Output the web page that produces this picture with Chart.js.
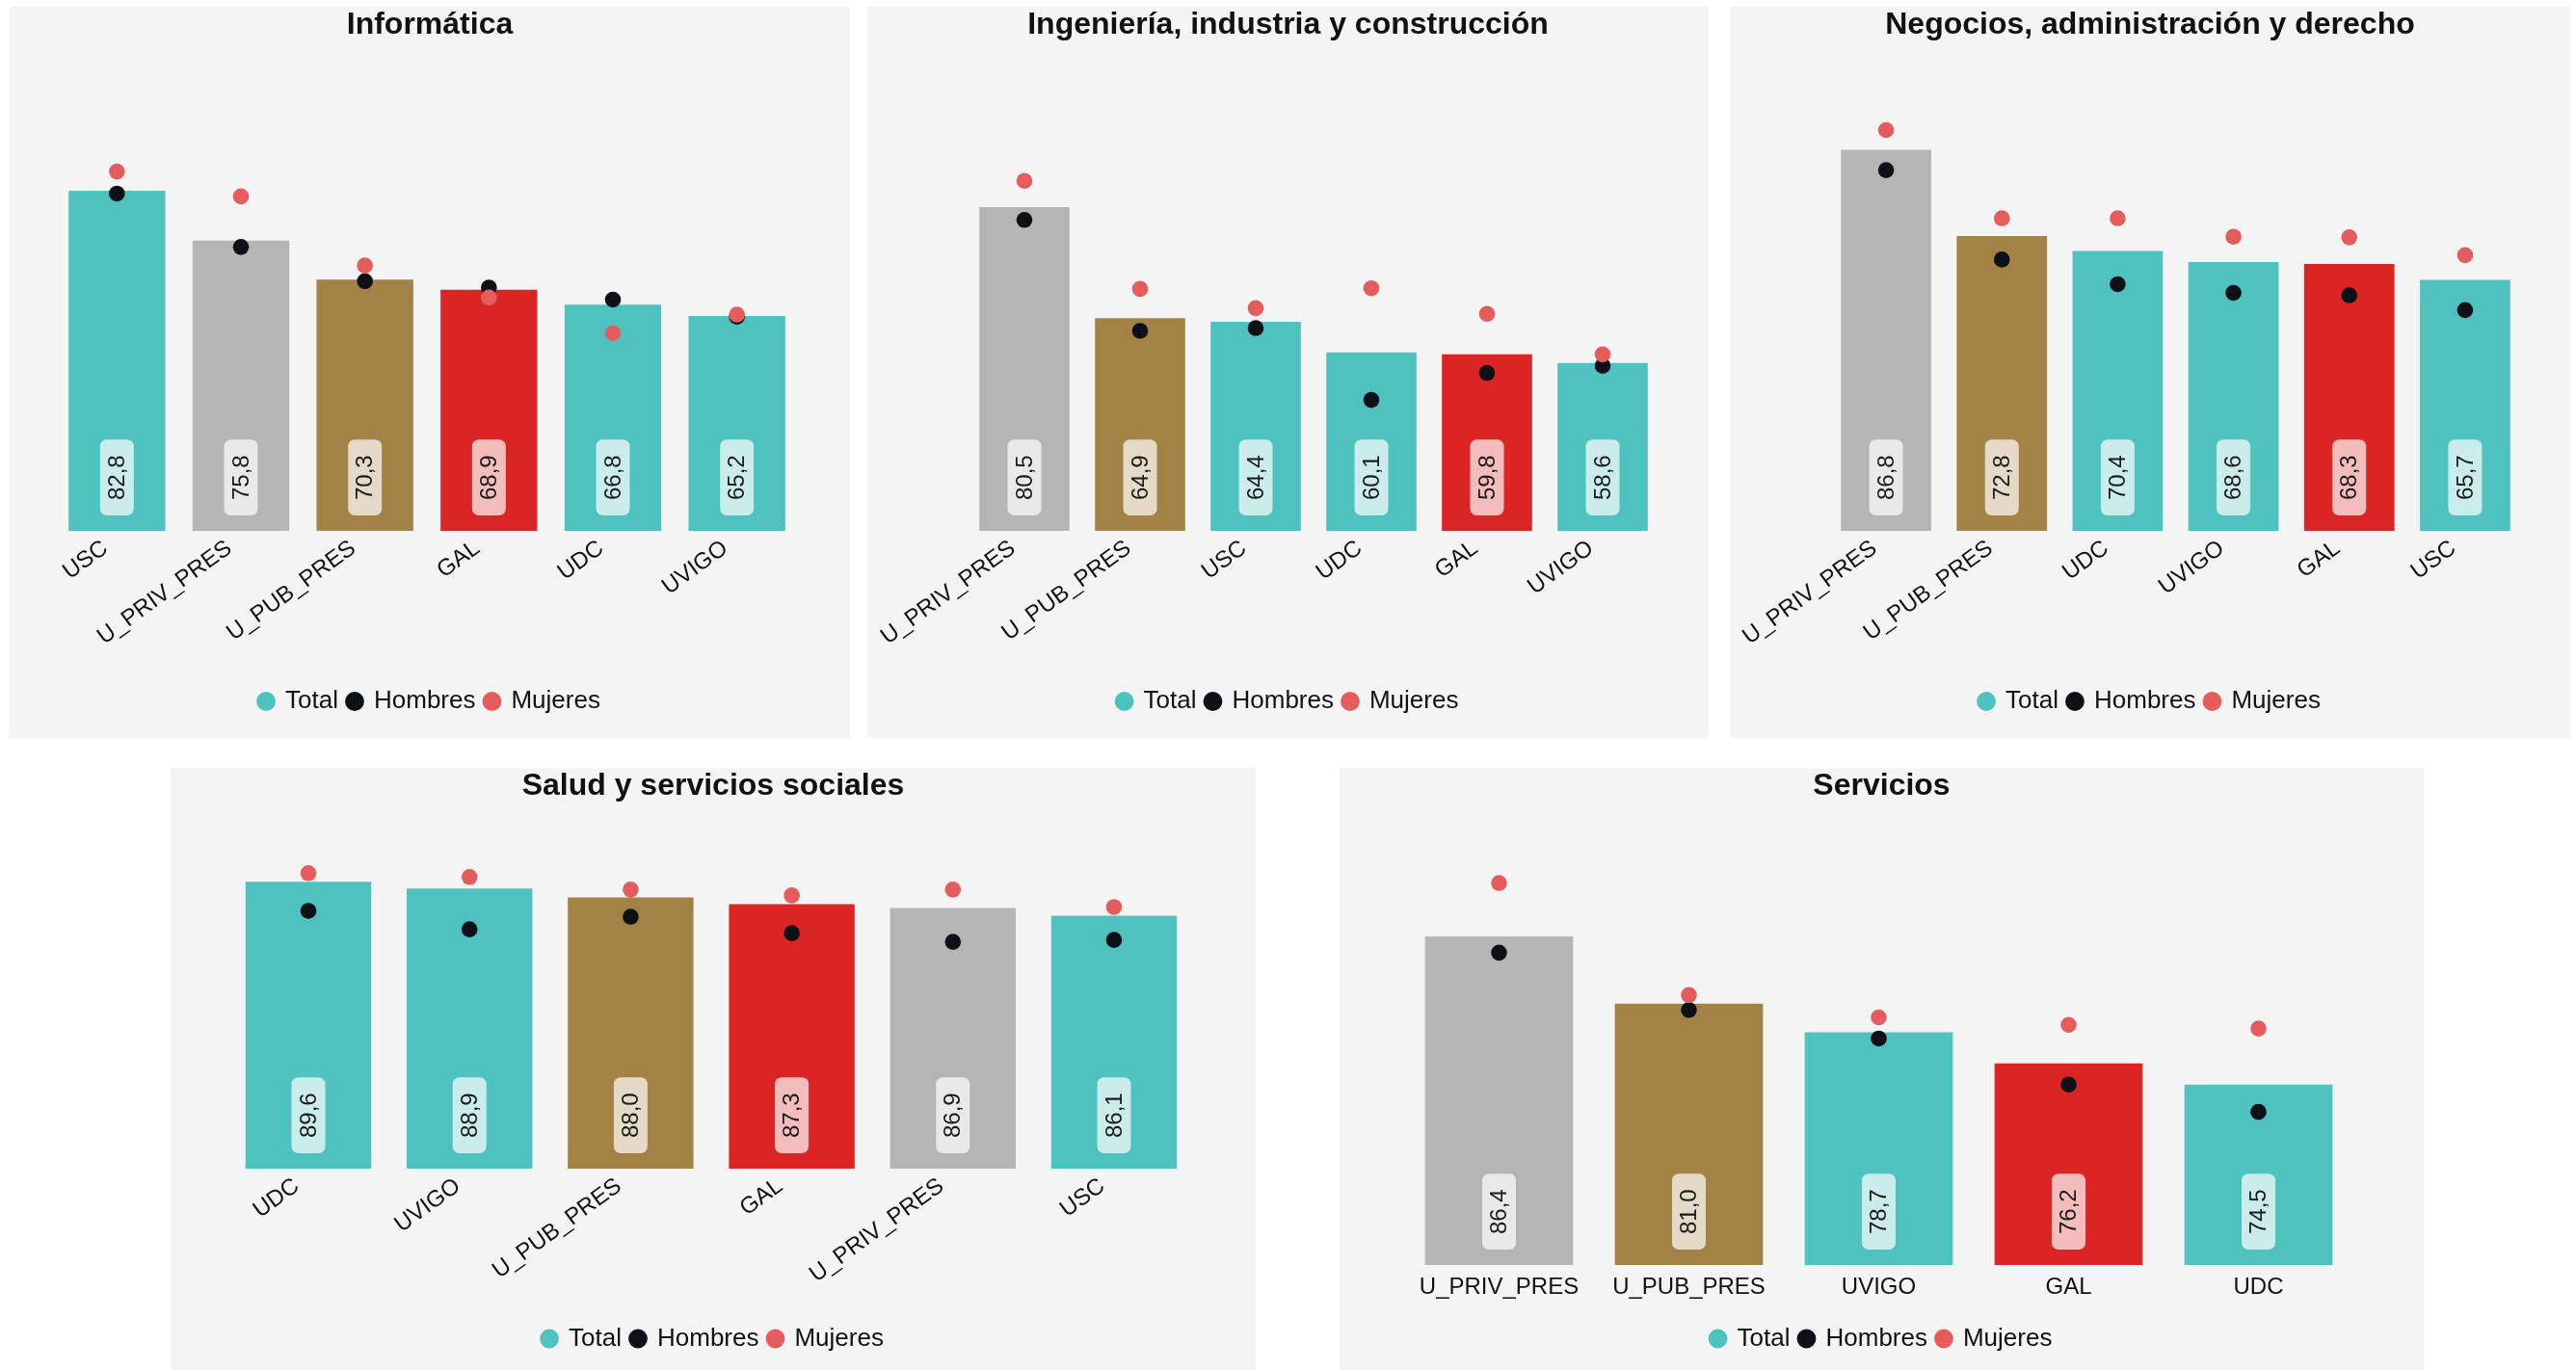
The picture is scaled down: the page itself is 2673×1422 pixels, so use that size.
<!DOCTYPE html>
<html>
<head>
<meta charset="utf-8">
<script src="https://cdn.jsdelivr.net/npm/chart.js@4.4.1/dist/chart.umd.min.js"></script>
<style>
  html, body { margin: 0; padding: 0; background: #ffffff; }
  body { width: 2673px; height: 1422px; position: relative; overflow: hidden; }
  .panel { position: absolute; background: #f4f4f4; }
</style>
</head>
<body>
<div class="panel" style="left:10px;top:7px;width:872px;height:759px"><canvas id="c1"></canvas></div>
<div class="panel" style="left:900px;top:7px;width:873px;height:759px"><canvas id="c2"></canvas></div>
<div class="panel" style="left:1795px;top:7px;width:872px;height:759px"><canvas id="c3"></canvas></div>
<div class="panel" style="left:177px;top:797px;width:1126px;height:625px"><canvas id="c4"></canvas></div>
<div class="panel" style="left:1390px;top:797px;width:1125px;height:625px"><canvas id="c5"></canvas></div>
<script>
// Informática
const infLabels   = ['USC', 'U_PRIV_PRES', 'U_PUB_PRES', 'GAL', 'UDC', 'UVIGO'];
const infTotal    = [82.8, 75.8, 70.3, 68.9, 66.8, 65.2];
const infHombres  = [82.4, 74.9, 70.1, 69.2, 67.5, 65.1];
const infMujeres  = [85.5, 82.0, 72.3, 67.8, 62.8, 65.4];

// Ingeniería, industria y construcción
const ingLabels   = ['U_PRIV_PRES', 'U_PUB_PRES', 'USC', 'UDC', 'GAL', 'UVIGO'];
const ingTotal    = [80.5, 64.9, 64.4, 60.1, 59.8, 58.6];
const ingHombres  = [78.7, 63.1, 63.5, 53.4, 57.2, 58.2];
const ingMujeres  = [84.2, 69.0, 66.3, 69.1, 65.5, 59.8];

// Negocios, administración y derecho
const negLabels   = ['U_PRIV_PRES', 'U_PUB_PRES', 'UDC', 'UVIGO', 'GAL', 'USC'];
const negTotal    = [86.8, 72.8, 70.4, 68.6, 68.3, 65.7];
const negHombres  = [83.5, 69.0, 65.0, 63.6, 63.2, 60.8];
const negMujeres  = [90.0, 75.7, 75.7, 72.7, 72.6, 69.7];

// Salud y servicios sociales
const salLabels   = ['UDC', 'UVIGO', 'U_PUB_PRES', 'GAL', 'U_PRIV_PRES', 'USC'];
const salTotal    = [89.6, 88.9, 88.0, 87.3, 86.9, 86.1];
const salHombres  = [86.6, 84.7, 86.0, 84.3, 83.4, 83.6];
const salMujeres  = [90.5, 90.1, 88.8, 88.2, 88.8, 87.0];

// Servicios
const serLabels   = ['U_PRIV_PRES', 'U_PUB_PRES', 'UVIGO', 'GAL', 'UDC'];
const serTotal    = [86.4, 81.0, 78.7, 76.2, 74.5];
const serHombres  = [85.1, 80.5, 78.2, 74.5, 72.3];
const serMujeres  = [90.7, 81.7, 79.9, 79.3, 79.0];

const seriesNames = ['Total', 'Hombres', 'Mujeres'];

const TEAL = '#4ec2be';
const BLACK = '#0d1117';
const PINK = '#e55c5d';
const barColors = {
  USC: TEAL, UDC: TEAL, UVIGO: TEAL,
  U_PRIV_PRES: '#b5b5b5',
  U_PUB_PRES: '#a38245',
  GAL: '#db2424'
};

const FONT = '"Liberation Sans", Arial, Helvetica, sans-serif';

// rotated value labels near the foot of each bar
const barLabels = {
  id: 'barLabels',
  afterDatasetsDraw(chart) {
    const ctx = chart.ctx;
    const values = chart.data.datasets[0].data;
    const meta = chart.getDatasetMeta(0);
    const bottom = chart.chartArea.bottom;
    ctx.save();
    ctx.font = '24px ' + FONT;
    meta.data.forEach((bar, i) => {
      const text = values[i].toFixed(1).replace('.', ',');
      const tw = ctx.measureText(text).width;
      const w = 35;
      const h = tw + 32;
      const yb = bottom - 16;
      ctx.fillStyle = 'rgba(255,255,255,0.7)';
      ctx.beginPath();
      ctx.roundRect(bar.x - w / 2, yb - h, w, h, 7);
      ctx.fill();
      ctx.save();
      ctx.translate(bar.x, yb - h / 2);
      ctx.rotate(-Math.PI / 2);
      ctx.fillStyle = '#1a1a1a';
      ctx.textAlign = 'center';
      ctx.textBaseline = 'middle';
      ctx.fillText(text, 0, 1);
      ctx.restore();
    });
    ctx.restore();
  }
};

function makeChart(id, title, labels, total, hombres, mujeres, opt) {
  const legendColors = [TEAL, BLACK, PINK];
  return new Chart(document.getElementById(id), {
    type: 'bar',
    data: {
      labels: labels,
      datasets: [
        {
          label: seriesNames[0],
          data: total,
          backgroundColor: labels.map(l => barColors[l]),
          barPercentage: 0.78,
          categoryPercentage: 1,
          order: 3
        },
        {
          type: 'line',
          label: seriesNames[1],
          data: hombres,
          showLine: false,
          pointRadius: 8.3,
          pointHoverRadius: 8.3,
          pointBackgroundColor: BLACK,
          pointBorderWidth: 0,
          order: 2
        },
        {
          type: 'line',
          label: seriesNames[2],
          data: mujeres,
          showLine: false,
          pointRadius: 8.3,
          pointHoverRadius: 8.3,
          pointBackgroundColor: PINK,
          pointBorderWidth: 0,
          order: 1
        }
      ]
    },
    options: {
      responsive: true,
      maintainAspectRatio: false,
      animation: false,
      devicePixelRatio: 1,
      layout: { padding: { left: 0, right: 0, top: 0, bottom: opt.padB } },
      plugins: {
        title: {
          display: true,
          text: title,
          color: '#111111',
          font: { family: FONT, size: 32, weight: 'bold' },
          padding: { top: 0, bottom: 25.6 }
        },
        legend: {
          position: 'bottom',
          labels: {
            usePointStyle: true,
            boxWidth: 14,
            boxHeight: 14,
            padding: 10,
            color: '#111111',
            font: { family: FONT, size: 26 },
            generateLabels: chart => chart.data.datasets.map((ds, i) => ({
              text: ds.label,
              fillStyle: legendColors[i],
              strokeStyle: legendColors[i],
              lineWidth: 0,
              pointStyle: 'circle',
              hidden: false,
              datasetIndex: i,
              fontColor: '#111111'
            }))
          }
        },
        tooltip: { enabled: false }
      },
      scales: {
        x: {
          grid: { display: false, drawTicks: false },
          border: { display: false },
          ticks: {
            color: '#111111',
            font: { family: FONT, size: 24 },
            minRotation: opt.rot,
            maxRotation: opt.rot,
            autoSkip: false,
            padding: opt.tickPad,
            labelOffset: opt.labelOff
          },
          afterFit: s => {
            s.paddingLeft = opt.padL;
            s.paddingRight = opt.padR;
            s.height = opt.axisH;
          }
        },
        y: { display: false, min: opt.min, max: opt.max }
      }
    },
    plugins: [barLabels]
  });
}

makeChart('c1', 'Informática', infLabels, infTotal, infHombres, infMujeres,
  { padL: 47, padR: 53, padB: 15, axisH: 154, rot: 36, tickPad: 4, labelOff: -12, min: 35, max: 100 });
makeChart('c2', 'Ingeniería, industria y construcción', ingLabels, ingTotal, ingHombres, ingMujeres,
  { padL: 103, padR: 50, padB: 15, axisH: 154, rot: 36, tickPad: 4, labelOff: -12, min: 35, max: 100 });
makeChart('c3', 'Negocios, administración y derecho', negLabels, negTotal, negHombres, negMujeres,
  { padL: 102, padR: 49, padB: 15, axisH: 154, rot: 36, tickPad: 4, labelOff: -12, min: 25, max: 100 });
makeChart('c4', 'Salud y servicios sociales', salLabels, salTotal, salHombres, salMujeres,
  { padL: 59.4, padR: 63.4, padB: 9.5, axisH: 153.5, rot: 36, tickPad: 4, labelOff: -12, min: 60, max: 95 });
makeChart('c5', 'Servicios', serLabels, serTotal, serHombres, serMujeres,
  { padL: 67, padR: 73, padB: 9.5, axisH: 53.5, rot: 0, tickPad: 9, labelOff: 0, min: 60, max: 95 });
</script>
</body>
</html>
